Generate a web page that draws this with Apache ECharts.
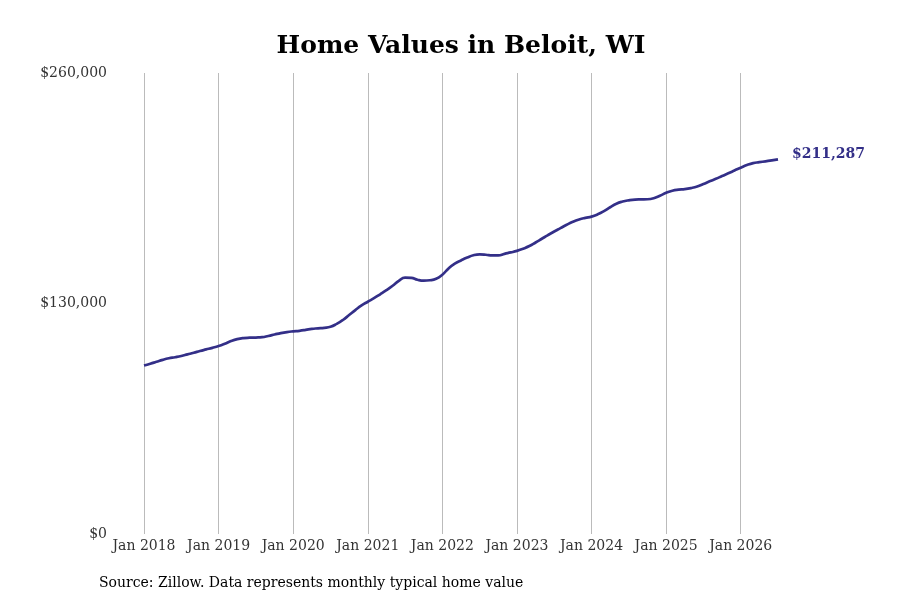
<!DOCTYPE html>
<html>
<head>
<meta charset="utf-8">
<title>Home Values in Beloit, WI</title>
<script src="https://cdn.jsdelivr.net/npm/echarts@6/dist/echarts.min.js"></script>
<style>
	html, body { margin: 0; padding: 0; background: #fff; }
	#chart { width: 900px; height: 600px; }
</style>
</head>
<body>
<div id="chart"></div>
<script>
// monthly typical home value, Jan 2018 onward
const startYear = 2018
const values2018 = [95000, 96000, 97100, 98200, 99100, 99700, 100400, 101300, 102200, 103200, 104100, 105000]
const values2019 = [106000, 107300, 108800, 109900, 110500, 110700, 110800, 111000, 111700, 112500, 113300, 113900]
const values2020 = [114300, 114600, 115100, 115700, 116000, 116300, 116900, 118500, 120700, 123500, 126300, 128900]
const values2021 = [131000, 133000, 135200, 137500, 140000, 142800, 144600, 144500, 143400, 142900, 143100, 143900]
const values2022 = [146200, 149800, 152500, 154300, 155900, 157200, 157700, 157500, 157100, 157100, 158000, 158800]
const values2023 = [159700, 160900, 162400, 164400, 166500, 168600, 170600, 172500, 174400, 176100, 177400, 178300]
const values2024 = [179000, 180300, 182100, 184300, 186300, 187500, 188200, 188600, 188700, 188800, 189400, 190800]
const values2025 = [192400, 193600, 194200, 194500, 195100, 196000, 197400, 198900, 200300, 201900, 203400, 205000]
const values2026 = [206600, 208100, 209200, 209700, 210200, 210700, 211287]
const yTicks = [0, 130000, 260000]
const monthNames = ['Jan', 'Feb', 'Mar', 'Apr', 'May', 'Jun', 'Jul', 'Aug', 'Sep', 'Oct', 'Nov', 'Dec']

const values = [].concat(values2018, values2019, values2020, values2021, values2022,
	values2023, values2024, values2025, values2026)
const months = values.map((v, i) => monthNames[i % 12] + ' ' + (startYear + Math.floor(i / 12)))

const money = v => '$' + v.toLocaleString('en-US')
const lineColor = '#332f88'
const serif = 'DejaVu Serif'

const chart = echarts.init(document.getElementById('chart'))
chart.setOption({
	animation: false,
	title: {
		text: 'Home Values in Beloit, WI',
		left: 456,
		textAlign: 'center',
		top: 29,
		textStyle: { fontFamily: serif, fontSize: 25, fontWeight: 'bold', color: '#000' },
	},
	grid: { left: 144, right: 122, top: 73, bottom: 66 },
	xAxis: {
		type: 'category',
		data: months,
		boundaryGap: false,
		axisLine: { show: false },
		axisTick: { show: false },
		axisLabel: {
			interval: 11,
			margin: 5,
			fontFamily: serif,
			fontSize: 14,
			color: '#333',
		},
		splitLine: {
			show: true,
			interval: 11,
			lineStyle: { color: '#bbbbbb', width: 1 },
		},
	},
	yAxis: {
		type: 'value',
		min: yTicks[0],
		max: yTicks[yTicks.length - 1],
		interval: yTicks[1] - yTicks[0],
		axisLine: { show: false },
		axisTick: { show: false },
		splitLine: { show: false },
		axisLabel: {
			margin: 37,
			fontFamily: serif,
			fontSize: 14,
			color: '#333',
			formatter: money,
		},
	},
	series: [
		{
			name: 'Home value',
			type: 'line',
			data: values,
			smooth: true,
			showSymbol: false,
			lineStyle: { color: lineColor, width: 2.7 },
			endLabel: {
				show: true,
				distance: 14,
				offset: [0, -5],
				formatter: p => money(p.value),
				fontFamily: serif,
				fontSize: 14,
				fontWeight: 'bold',
				color: lineColor,
			},
		},
	],
	graphic: [
		{
			type: 'text',
			left: 99,
			top: 576,
			style: {
				text: 'Source: Zillow. Data represents monthly typical home value',
				fontFamily: serif,
				fontSize: 14,
				fill: '#000',
			},
		},
	],
})
</script>
</body>
</html>
